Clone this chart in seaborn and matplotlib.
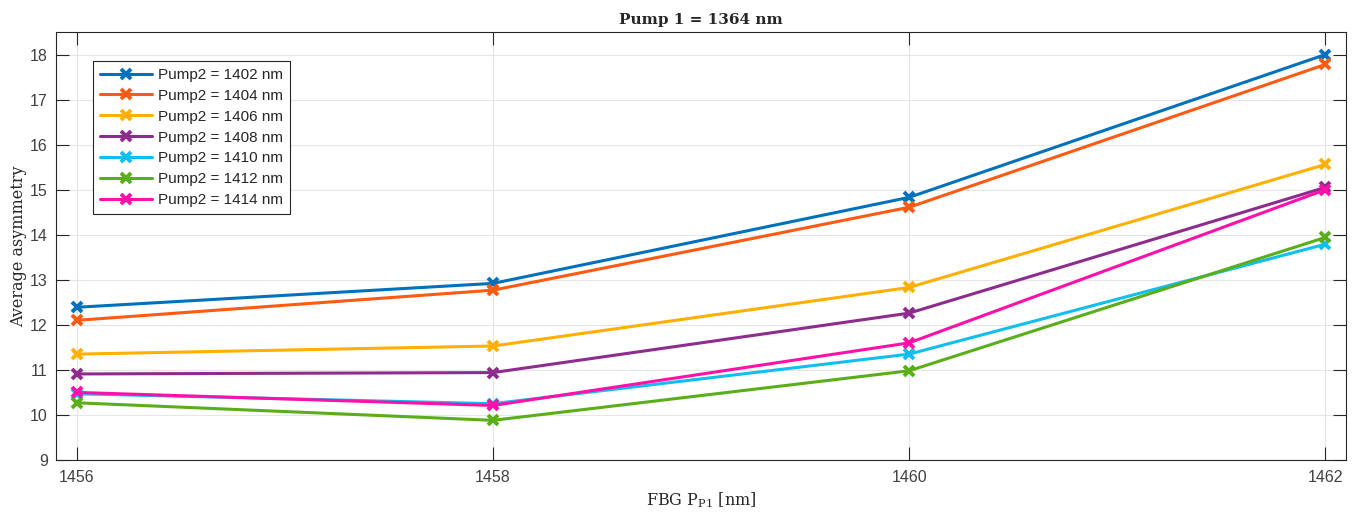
import matplotlib
matplotlib.use("Agg")
import matplotlib.pyplot as plt
import seaborn as sns
import pandas as pd

# FBG wavelengths (x) and average asymmetry per Pump2 wavelength
fbg_nm = [1456, 1458, 1460, 1462]
pump2_nm = [1402, 1404, 1406, 1408, 1410, 1412, 1414]
asym_1402 = [12.39, 12.92, 14.83, 18.00]
asym_1404 = [12.10, 12.77, 14.61, 17.78]
asym_1406 = [11.35, 11.53, 12.83, 15.56]
asym_1408 = [10.91, 10.94, 12.26, 15.05]
asym_1410 = [10.47, 10.25, 11.35, 13.79]
asym_1412 = [10.27, 9.88, 10.98, 13.94]
asym_1414 = [10.50, 10.21, 11.60, 15.00]
series = [asym_1402, asym_1404, asym_1406, asym_1408, asym_1410, asym_1412, asym_1414]

labels = [f"Pump2 = {p} nm" for p in pump2_nm]
colors = ["#0072BD", "#FF5A12", "#FFB000", "#8E2C8E", "#10BEF0", "#5AAE19", "#FF10A8"]

rows = []
for lab, vals in zip(labels, series):
    for x, v in zip(fbg_nm, vals):
        rows.append({"FBG": x, "asym": v, "series": lab})
df = pd.DataFrame(rows)

sns.set_theme(style="white")
plt.rcParams["font.family"] = ["Liberation Sans", "DejaVu Sans"]

fig = plt.figure(figsize=(13.54, 5.17), dpi=100)
ax = fig.add_axes([0.0414, 0.1103, 0.9527, 0.8277])

sns.lineplot(data=df, x="FBG", y="asym", hue="series", hue_order=labels,
             palette=colors, marker="x", markersize=7, markeredgewidth=2.8,
             linewidth=2.2, ax=ax, legend=True)
for line in ax.lines:
    line.set_markeredgecolor(line.get_color())

ax.set_xlim(1455.9, 1462.1)
ax.set_ylim(9, 18.5)
ax.set_xticks(fbg_nm)
ax.set_yticks(range(9, 19))
ax.grid(True, color="#e6e6e6", linewidth=0.8)
ax.set_axisbelow(True)
for s in ax.spines.values():
    s.set_color("#262626")
    s.set_linewidth(0.8)
ax.tick_params(axis="both", direction="in", length=9.5, width=0.8, colors="#262626",
               labelcolor="#404040", labelsize=11.5, top=True, right=True,
               left=True, bottom=True)
ax.tick_params(axis="x", pad=7)
ax.tick_params(axis="y", pad=6)

serif = ["DejaVu Serif"]
ax.set_title("Pump 1 = 1364 nm", fontsize=11, fontweight="bold", family=serif, pad=6)
ax.set_xlabel(r"FBG P$_{\mathregular{P1}}$ [nm]", fontsize=11.5, family=serif, labelpad=4)
ax.set_ylabel("Average asymmetry", fontsize=11.5, family=serif, labelpad=2)

leg = ax.legend(loc="upper left", bbox_to_anchor=(0.0225, 0.95), fontsize=11,
                frameon=True, fancybox=False, edgecolor="#262626", framealpha=1,
                handlelength=3.4, handletextpad=0.4, borderpad=0.45, labelspacing=0.45)
leg.get_frame().set_linewidth(0.8)

fig.savefig("out.png", dpi=100)
